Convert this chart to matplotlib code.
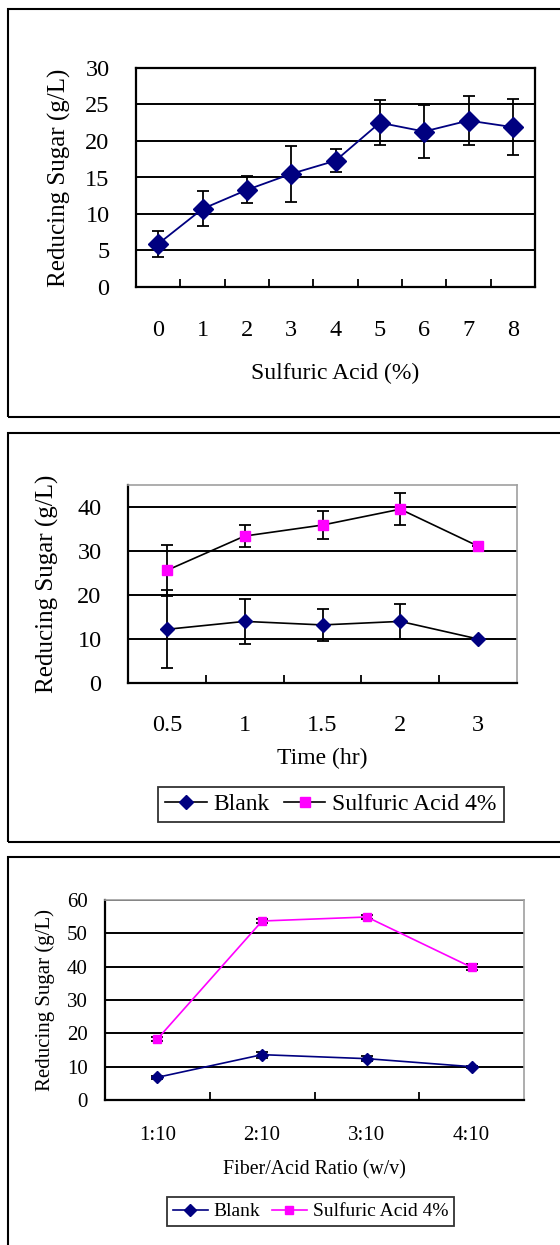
import matplotlib.pyplot as plt
from matplotlib.lines import Line2D
from matplotlib.patches import Rectangle

plt.rcParams['font.family'] = ['Liberation Serif', 'DejaVu Serif']

# panel 1: acid concentration
acid_labels = ['0', '1', '2', '3', '4', '5', '6', '7', '8']
acid_sugar = [5.9, 10.7, 13.3, 15.5, 17.3, 22.5, 21.3, 22.8, 21.9]
acid_err = [1.8, 2.4, 1.85, 3.85, 1.6, 3.1, 3.6, 3.3, 3.85]

# panel 2: time
time_labels = ['0.5', '1', '1.5', '2', '3']
time_blank = [12.2, 14.0, 13.2, 14.0, 10.0]
time_blank_err = [8.9, 5.2, 3.6, 4.0, 0.0]
time_acid = [25.6, 33.4, 35.9, 39.5, 31.1]
time_acid_err = [5.8, 2.4, 3.2, 3.6, 0.0]

# panel 3: fiber/acid ratio
ratio_labels = ['1:10', '2:10', '3:10', '4:10']
ratio_blank = [6.8, 13.6, 12.4, 10.0]
ratio_blank_err = [0.4, 0.9, 0.8, 0.3]
ratio_acid = [18.3, 53.7, 54.9, 39.8]
ratio_acid_err = [0.5, 0.5, 0.6, 0.9]

W, H = 560, 1245
NAVY = '#000080'
MAGENTA = '#FF00FF'

fig = plt.figure(figsize=(W / 100, H / 100), dpi=100)


def px_axes(x0, y0, x1, y1):
    return fig.add_axes([x0 / W, 1 - y1 / H, (x1 - x0) / W, (y1 - y0) / H])


def frame(y0, y1):
    fig.patches.append(Rectangle((8 / W, 1 - y1 / H), 1.0, (y1 - y0) / H,
                                 transform=fig.transFigure, fill=False,
                                 edgecolor='black', lw=1.5, clip_on=False))


def style(ax, labels, ymax, ystep, fs_tick, fs_x, fs_y, ylab, xlab,
          ylab_x, xlab_y, xpad, ypad, light_frame):
    n = len(labels)
    ax.set_xlim(-0.5, n - 0.5)
    ax.set_ylim(0, ymax)
    ax.set_xticks(range(n))
    ax.set_xticklabels(labels)
    ax.set_xticks([i + 0.5 for i in range(n - 1)], minor=True)
    ax.tick_params(axis='x', which='major', length=0, labelsize=fs_tick, pad=xpad)
    ax.tick_params(axis='x', which='minor', direction='in', length=6, width=1.3)
    ax.set_yticks(range(0, ymax + 1, ystep) if ymax % ystep == 0 else range(0, ymax, ystep))
    ax.tick_params(axis='y', length=0, labelsize=fs_tick, pad=ypad)
    ax.yaxis.grid(True, color='black', lw=1.4)
    ax.set_axisbelow(True)
    for s in ['left', 'bottom']:
        ax.spines[s].set_linewidth(1.6)
    for s in ['top', 'right']:
        if light_frame:
            ax.spines[s].set_color('#a0a0a0')
            ax.spines[s].set_linewidth(1.2)
        else:
            ax.spines[s].set_linewidth(1.6)
    ax.set_ylabel(ylab, fontsize=fs_y)
    ax.yaxis.set_label_coords(ylab_x, 0.5)
    ax.yaxis.label.set_va('center')
    ax.set_xlabel(xlab, fontsize=fs_x)
    ax.xaxis.set_label_coords(0.5, xlab_y)
    ax.xaxis.label.set_va('center')


def series(ax, y, err, color, marker, ms, line_color, lw):
    x = list(range(len(y)))
    ax.errorbar(x, y, yerr=err, fmt='none', ecolor='black', elinewidth=1.3,
                capsize=4, capthick=1.3, zorder=3)
    ax.plot(x, y, color=line_color, lw=lw, marker=marker, ms=ms,
            markerfacecolor=color, markeredgecolor=color, zorder=4)


def legend(x, y, fs, ms_b, ms_a, lc_b, lc_a, lw, hl):
    handles = [
        Line2D([], [], color=lc_b, lw=lw, marker='D', ms=ms_b,
               markerfacecolor=NAVY, markeredgecolor=NAVY),
        Line2D([], [], color=lc_a, lw=lw, marker='s', ms=ms_a,
               markerfacecolor=MAGENTA, markeredgecolor=MAGENTA),
    ]
    leg = fig.legend(handles, ['Blank', 'Sulfuric Acid 4%'], loc='center',
                     bbox_to_anchor=(x / W, 1 - y / H), ncol=2, fontsize=fs,
                     frameon=True, fancybox=False, edgecolor='black',
                     handlelength=hl, handletextpad=0.3, columnspacing=0.6,
                     borderpad=0.3, borderaxespad=0)
    leg.get_frame().set_linewidth(1.3)


# borders
frame(9, 417)
frame(433, 842)
frame(857, 1260)

# panel 1
ax1 = px_axes(136, 68, 535, 287)
series(ax1, acid_sugar, acid_err, NAVY, 'D', 10, NAVY, 1.3)
style(ax1, acid_labels, 30, 5, 17.5, 17, 18, 'Reducing Sugar (g/L)', 'Sulfuric Acid (%)',
      -0.193, -0.393, 24, 19, False)

# panel 2
ax2 = px_axes(128, 485, 517, 683)
series(ax2, time_blank, time_blank_err, NAVY, 'D', 7.5, 'black', 1.2)
series(ax2, time_acid, time_acid_err, MAGENTA, 's', 7.2, 'black', 1.2)
style(ax2, time_labels, 45, 10, 17.5, 17, 18, 'Reducing Sugar (g/L)', 'Time (hr)',
      -0.206, -0.379, 23, 19, True)
legend(331, 804.5, 17, 7.5, 7.2, 'black', 'black', 1.2, 1.75)

# panel 3
ax3 = px_axes(105, 900, 524, 1100)
series(ax3, ratio_blank, ratio_blank_err, NAVY, 'D', 6, NAVY, 1.2)
series(ax3, ratio_acid, ratio_acid_err, MAGENTA, 's', 5.8, MAGENTA, 1.2)
style(ax3, ratio_labels, 60, 10, 15, 14.3, 15, 'Reducing Sugar (g/L)', 'Fiber/Acid Ratio (w/v)',
      -0.144, -0.35, 19, 12.5, True)
legend(310.5, 1211.5, 14, 6, 5.8, NAVY, MAGENTA, 1.2, 1.8)

fig.savefig('out.png', dpi=100)
